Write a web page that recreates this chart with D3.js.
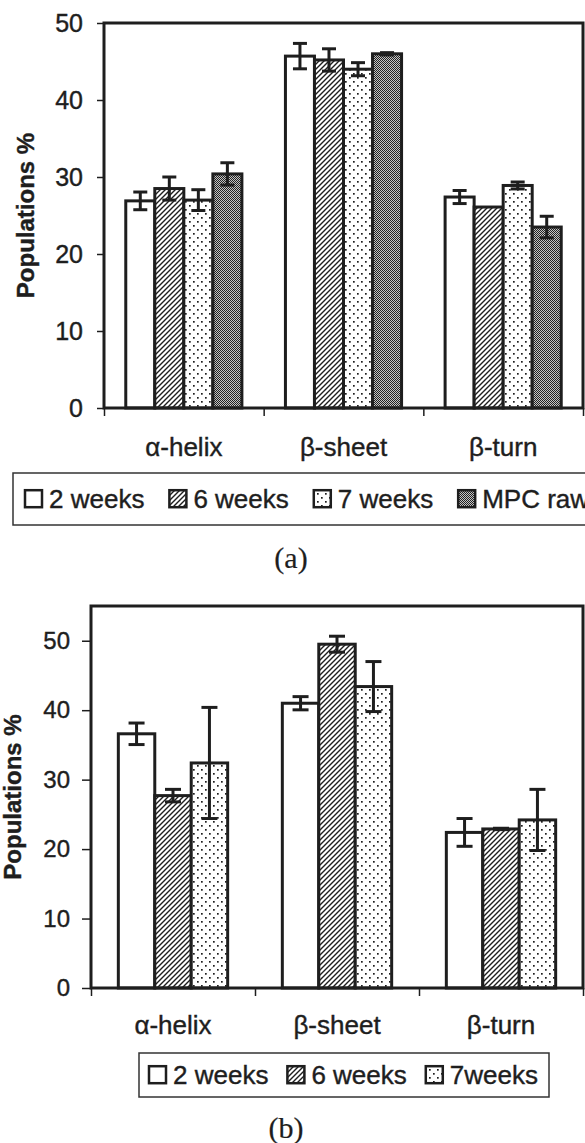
<!DOCTYPE html>
<html>
<head>
<meta charset="utf-8">
<script src="https://cdn.jsdelivr.net/npm/d3@7"></script>
<style>
body { margin: 0; background: #fff; }
svg { display: block; font-family: "Liberation Sans", Arial, sans-serif; }
svg text { stroke: #1e1e1e; stroke-width: 0.4px; }
</style>
</head>
<body>
<svg id="fig" width="585" height="1143"></svg>
<script>
const categories = ["α-helix", "β-sheet", "β-turn"];
const yTicks = [0, 10, 20, 30, 40, 50];

// panel (a)
const seriesA = ["2 weeks", "6 weeks", "7 weeks", "MPC raw"];
const weeks2A = [26.9, 45.7, 27.4];
const weeks6A = [28.5, 45.2, 26.1];
const weeks7A = [27.0, 44.0, 28.9];
const mpcRawA = [30.4, 46.0, 23.5];
const weeks2ErrA = [1.15, 1.65, 0.85];
const weeks6ErrA = [1.5, 1.45, 0];
const weeks7ErrA = [1.35, 0.85, 0.45];
const mpcRawErrA = [1.45, 0.15, 1.4];

// panel (b)
const seriesB = ["2 weeks", "6 weeks", "7weeks"];
const weeks2B = [36.6, 41.0, 22.4];
const weeks6B = [27.7, 49.5, 22.9];
const weeks7B = [32.4, 43.4, 24.2];
const weeks2ErrB = [1.55, 0.95, 2.0];
const weeks6ErrB = [0.9, 1.15, 0.1];
const weeks7ErrB = [8.0, 3.6, 4.4];

const ink = "#1e1e1e";
let svg = d3.select("#fig");
let defs = svg.append("defs");

// fill patterns
let hatch = defs.append("pattern").attr("id", "hatch")
    .attr("patternUnits", "userSpaceOnUse").attr("width", 5).attr("height", 5);
hatch.append("rect").attr("width", 5).attr("height", 5).attr("fill", "#fff");
hatch.append("path").attr("d", "M-1,1 l2,-2 M0,5 l5,-5 M4,6 l2,-2")
    .attr("stroke", ink).attr("stroke-width", 1.4);

let dots = defs.append("pattern").attr("id", "dots")
    .attr("patternUnits", "userSpaceOnUse").attr("width", 8).attr("height", 8);
dots.append("rect").attr("width", 8).attr("height", 8).attr("fill", "#fff");
dots.append("rect").attr("x", 1).attr("y", 1).attr("width", 1.7).attr("height", 1.7).attr("fill", ink);
dots.append("rect").attr("x", 5).attr("y", 5).attr("width", 1.7).attr("height", 1.7).attr("fill", ink);

let mesh = defs.append("pattern").attr("id", "mesh")
    .attr("patternUnits", "userSpaceOnUse").attr("width", 2).attr("height", 2);
mesh.append("rect").attr("width", 2).attr("height", 2).attr("fill", "#c4c4c4");
mesh.append("rect").attr("width", 1).attr("height", 1).attr("fill", "#222");
mesh.append("rect").attr("x", 1).attr("y", 1).attr("width", 1).attr("height", 1).attr("fill", "#222");

const fills = ["#fff", "url(#hatch)", "url(#dots)", "url(#mesh)"];

function drawPanel(cfg) {
    let g = svg.append("g");

    let x = d3.scaleBand().domain(categories).range([cfg.left, cfg.right]);
    let C = x.bandwidth();
    let n = cfg.series.length;
    let barW = C / (n + 1.5);
    let xs = d3.scaleBand().domain(d3.range(n)).range([barW * 0.75, C - barW * 0.75]);
    let y = d3.scaleLinear().domain([0, cfg.yMax]).range([cfg.bottom, cfg.top]);

    let rows = [];
    cfg.series.forEach((s, i) => {
        categories.forEach((c, j) => {
            rows.push({ s: i, cat: c, v: cfg.values[i][j], e: cfg.errors[i][j] });
        });
    });

    g.selectAll("rect.bar")
        .data(rows)
        .join("rect")
        .classed("bar", true)
        .attr("x", d => x(d.cat) + xs(d.s))
        .attr("width", xs.bandwidth())
        .attr("y", d => y(d.v))
        .attr("height", d => y(0) - y(d.v))
        .attr("fill", d => fills[d.s])
        .attr("stroke", ink)
        .attr("stroke-width", 3);

    // error bars
    let errs = g.selectAll("g.err")
        .data(rows.filter(d => d.e > 0))
        .join("g")
        .classed("err", true)
        .attr("transform", d => `translate(${x(d.cat) + xs(d.s) + xs.bandwidth() / 2},0)`)
        .attr("stroke", ink)
        .attr("stroke-width", 3);
    errs.append("line")
        .attr("y1", d => y(d.v - d.e))
        .attr("y2", d => y(d.v + d.e));
    errs.append("line")
        .attr("x1", -cfg.cap / 2).attr("x2", cfg.cap / 2)
        .attr("y1", d => y(d.v + d.e)).attr("y2", d => y(d.v + d.e));
    errs.append("line")
        .attr("x1", -cfg.cap / 2).attr("x2", cfg.cap / 2)
        .attr("y1", d => y(d.v - d.e)).attr("y2", d => y(d.v - d.e));

    // plot frame
    g.append("rect")
        .attr("x", cfg.left)
        .attr("y", cfg.top)
        .attr("width", cfg.right - cfg.left)
        .attr("height", cfg.bottom - cfg.top)
        .attr("fill", "none")
        .attr("stroke", ink)
        .attr("stroke-width", 3);

    // y axis
    let yAxis = d3.axisLeft(y)
        .tickValues(yTicks)
        .tickSize(cfg.tick)
        .tickPadding(cfg.tickPad);
    let ya = g.append("g")
        .attr("transform", `translate(${cfg.left},0)`)
        .call(yAxis);
    ya.select(".domain").remove();
    ya.selectAll("line").attr("stroke", ink).attr("stroke-width", 1.5);
    ya.selectAll("text")
        .attr("fill", ink)
        .style("font-size", cfg.tickFont + "px")
        .style("font-family", "Liberation Sans, Arial, sans-serif");

    // x axis: boundary ticks + category labels
    let xb = d3.scaleLinear().domain([0, categories.length]).range([cfg.left, cfg.right]);
    let xbAxis = g.append("g")
        .attr("transform", `translate(0,${cfg.bottom})`)
        .call(d3.axisBottom(xb).tickValues(d3.range(categories.length + 1)).tickFormat("").tickSize(8));
    xbAxis.select(".domain").remove();
    xbAxis.selectAll("line").attr("stroke", ink).attr("stroke-width", 1.5);

    let xa = g.append("g")
        .attr("transform", `translate(0,${cfg.bottom})`)
        .call(d3.axisBottom(x).tickSize(0).tickPadding(cfg.catPad));
    xa.select(".domain").remove();
    xa.selectAll("text")
        .attr("fill", ink)
        .style("font-size", "26px")
        .style("font-family", "Liberation Sans, Arial, sans-serif");

    // y title
    g.append("text")
        .attr("transform", `translate(${cfg.titleX},${(cfg.top + cfg.bottom) / 2}) rotate(-90)`)
        .attr("text-anchor", "middle")
        .attr("dy", "0.35em")
        .attr("fill", ink)
        .style("font-size", "24px")
        .style("font-weight", "bold")
        .text("Populations %");

    // legend
    let lg = g.append("g");
    lg.append("rect")
        .attr("x", cfg.legend.x0)
        .attr("y", cfg.legend.y0)
        .attr("width", cfg.legend.x1 - cfg.legend.x0)
        .attr("height", cfg.legend.y1 - cfg.legend.y0)
        .attr("fill", "#fff")
        .attr("stroke", "#333")
        .attr("stroke-width", 1.5);
    let xPos = cfg.legend.start;
    let base = cfg.legend.base;
    cfg.series.forEach((s, i) => {
        lg.append("rect")
            .attr("x", xPos)
            .attr("y", base - 9.3 - 8.5)
            .attr("width", 17)
            .attr("height", 17)
            .attr("fill", fills[i])
            .attr("stroke", ink)
            .attr("stroke-width", 2.5);
        let t = lg.append("text")
            .attr("x", xPos + 24)
            .attr("y", base)
            .attr("fill", ink)
            .style("font-size", "26px")
            .text(s);
        xPos = xPos + 24 + t.node().getComputedTextLength() + cfg.legend.gap;
    });

    // panel caption
    g.append("text")
        .attr("x", cfg.caption.x)
        .attr("y", cfg.caption.y)
        .attr("text-anchor", "middle")
        .attr("fill", ink)
        .style("font-family", "Liberation Serif, Times New Roman, serif")
        .style("font-size", "30px")
        .style("stroke-width", "0.2px")
        .text(cfg.caption.text);
}

drawPanel({
    left: 104, right: 583, top: 23, bottom: 408, yMax: 50,
    series: seriesA,
    values: [weeks2A, weeks6A, weeks7A, mpcRawA],
    errors: [weeks2ErrA, weeks6ErrA, weeks7ErrA, mpcRawErrA],
    cap: 14, tick: 7, tickPad: 14, tickFont: 25, catPad: 30,
    titleX: 26,
    legend: { x0: 13, x1: 600, y0: 473, y1: 525, start: 25, base: 508, gap: 25 },
    caption: { text: "(a)", x: 291, y: 568 }
});

drawPanel({
    left: 91, right: 583, top: 606, bottom: 988, yMax: 55,
    series: seriesB,
    values: [weeks2B, weeks6B, weeks7B],
    errors: [weeks2ErrB, weeks6ErrB, weeks7ErrB],
    cap: 16, tick: 9, tickPad: 12, tickFont: 24, catPad: 28,
    titleX: 13,
    legend: { x0: 139, x1: 549, y0: 1053, y1: 1097, start: 149, base: 1084, gap: 19 },
    caption: { text: "(b)", x: 286, y: 1138 }
});
</script>
</body>
</html>
